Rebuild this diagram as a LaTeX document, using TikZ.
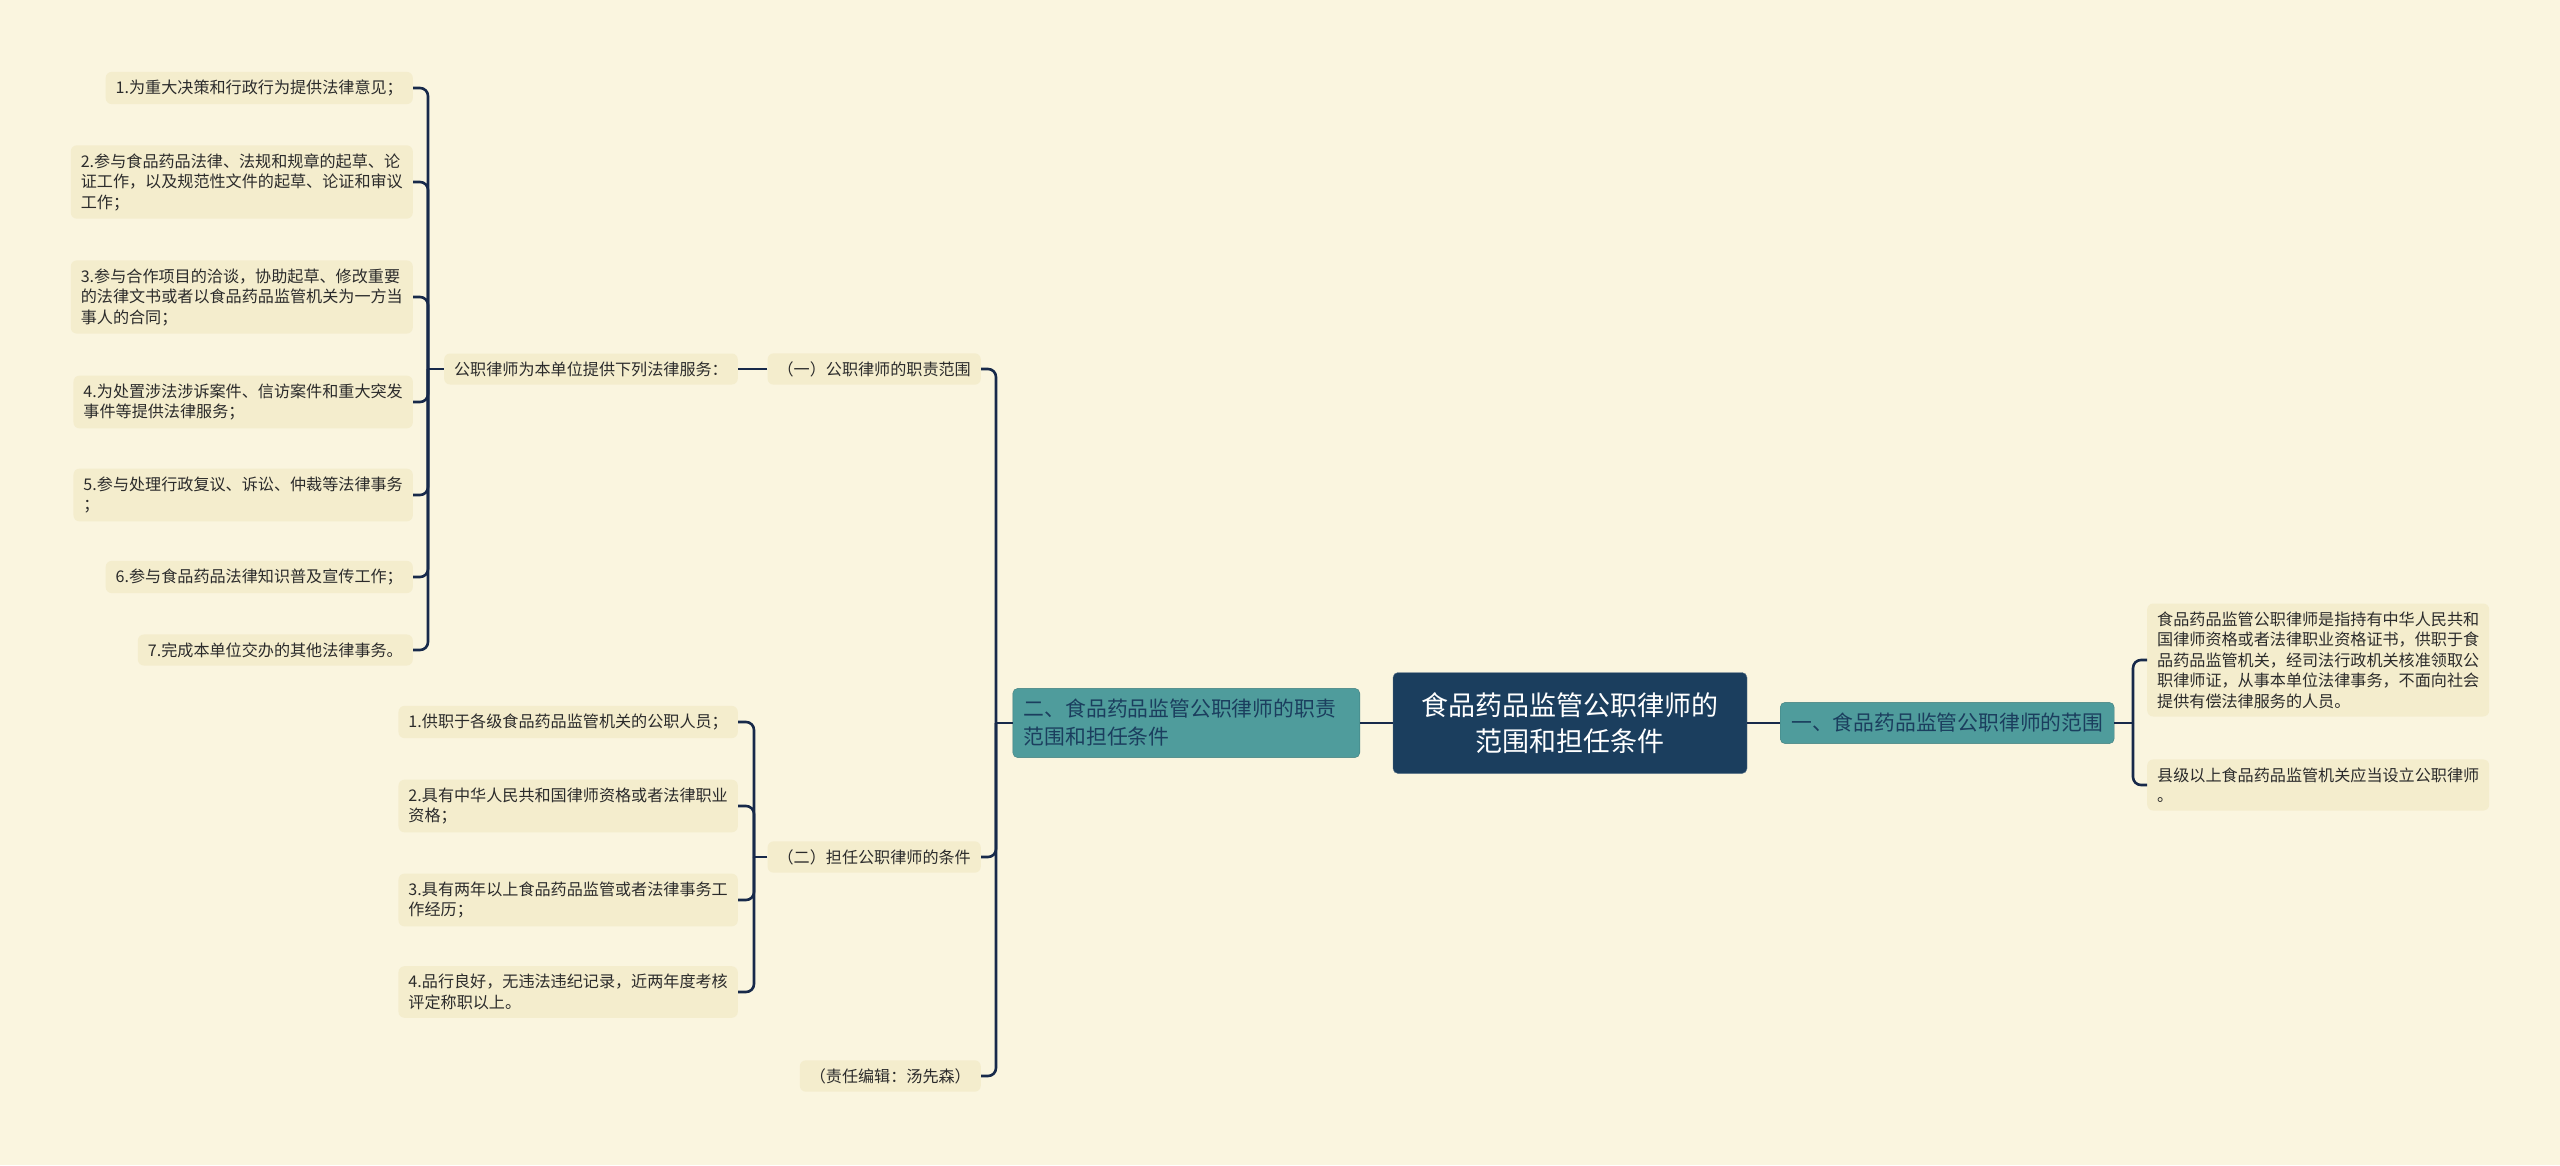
\documentclass[tikz,border=0pt]{standalone}
\usepackage{fontspec}
\setmainfont{Noto Sans CJK SC}
\definecolor{bgcol}{HTML}{FAF5DF}
\definecolor{leafcol}{HTML}{F4EDCD}
\definecolor{branchcol}{HTML}{4F9C9C}
\definecolor{rootcol}{HTML}{1B3E5E}
\definecolor{linecol}{HTML}{17294A}
\definecolor{textcol}{HTML}{2B2B2B}
\newcommand{\px}{1pt}

\begin{document}
\begin{tikzpicture}[leaf/.style={fill=leafcol, rounded corners=6pt, anchor=east, inner xsep=10pt, inner ysep=8pt, align=left, text=textcol, font=\fontsize{16.1}{20.5}\selectfont},
    rleaf/.style={leaf, anchor=west},
    branch/.style={fill=branchcol, draw=branchcol!80!black, rounded corners=5pt, inner xsep=11pt, inner ysep=11pt, align=left, text=rootcol, font=\fontsize{20.8}{28}\selectfont},
    root/.style={fill=rootcol, draw=rootcol!70!white, rounded corners=5pt, minimum width=354*\px, minimum height=101*\px, align=center, text=white, font=\fontsize{27}{36}\selectfont},
    link/.style={draw=linecol, line width=2.6pt, rounded corners=8pt}]
    \fill[bgcol] (0,0) rectangle (2560*\px,-1165*\px);

    % Centre and main branches
    \node[root] (root) at (1570*\px,-723*\px) {食品药品监管公职律师的\\范围和担任条件};
    \node[branch, anchor=east, text width=325*\px] (branch-l) at (1360*\px,-723*\px) {二、食品药品监管公职律师的职责\\范围和担任条件};
    \node[branch, anchor=west] (branch-r) at (1780*\px,-723*\px) {一、食品药品监管公职律师的范围};

    % Right side
    \node[rleaf] (leaf-r-1) at (2147*\px,-660*\px) {食品药品监管公职律师是指持有中华人民共和\\国律师资格或者法律职业资格证书，供职于食\\品药品监管机关，经司法行政机关核准领取公\\职律师证，从事本单位法律事务，不面向社会\\提供有偿法律服务的人员。};
    \node[rleaf] (leaf-r-2) at (2147*\px,-785*\px) {县级以上食品药品监管机关应当设立公职律师\\。};

    % Left side, second level
    \node[leaf] (mid-1) at (981*\px,-369*\px) {（一）公职律师的职责范围};
    \node[leaf] (mid-2) at (981*\px,-857*\px) {（二）担任公职律师的条件};
    \node[leaf] (mid-3) at (981*\px,-1076*\px) {（责任编辑：汤先森）};
    \node[leaf] (svc) at (738*\px,-369*\px) {公职律师为本单位提供下列法律服务：};

    % First group
    \node[leaf] (leaf-1-1) at (413*\px,-88*\px) {1.为重大决策和行政行为提供法律意见；};
    \node[leaf] (leaf-1-2) at (413*\px,-182*\px) {2.参与食品药品法律、法规和规章的起草、论\\证工作，以及规范性文件的起草、论证和审议\\工作；};
    \node[leaf] (leaf-1-3) at (413*\px,-297*\px) {3.参与合作项目的洽谈，协助起草、修改重要\\的法律文书或者以食品药品监管机关为一方当\\事人的合同；};
    \node[leaf] (leaf-1-4) at (413*\px,-402*\px) {4.为处置涉法涉诉案件、信访案件和重大突发\\事件等提供法律服务；};
    \node[leaf] (leaf-1-5) at (413*\px,-495*\px) {5.参与处理行政复议、诉讼、仲裁等法律事务\\；};
    \node[leaf] (leaf-1-6) at (413*\px,-577*\px) {6.参与食品药品法律知识普及宣传工作；};
    \node[leaf] (leaf-1-7) at (413*\px,-650*\px) {7.完成本单位交办的其他法律事务。};

    % Second group
    \node[leaf] (leaf-2-1) at (738*\px,-722*\px) {1.供职于各级食品药品监管机关的公职人员；};
    \node[leaf] (leaf-2-2) at (738*\px,-806*\px) {2.具有中华人民共和国律师资格或者法律职业\\资格；};
    \node[leaf] (leaf-2-3) at (738*\px,-900*\px) {3.具有两年以上食品药品监管或者法律事务工\\作经历；};
    \node[leaf] (leaf-2-4) at (738*\px,-992*\px) {4.品行良好，无违法违纪记录，近两年度考核\\评定称职以上。};

    % Bracket points
    \coordinate (bk-r) at (2133*\px,-723*\px);
    \coordinate (bk-l) at (996*\px,-723*\px);
    \coordinate (bk-1) at (428*\px,-369*\px);
    \coordinate (bk-2) at (754*\px,-857*\px);

    % Connectors
    \draw[link] (root.west) -- (branch-l.east);
    \draw[link] (root.east) -- (branch-r.west);
    \draw[link] (branch-r.east) -- (bk-r);
    \foreach \c in {leaf-r-1,leaf-r-2} \draw[link] (\c.west) -| (bk-r);
    \draw[link] (branch-l.west) -- (bk-l);
    \foreach \c in {mid-1,mid-2,mid-3} \draw[link] (\c.east) -| (bk-l);
    \draw[link] (mid-1.west) -- (svc.east);
    \draw[link] (svc.west) -- (bk-1);
    \foreach \i in {1,...,7} \draw[link] (leaf-1-\i.east) -| (bk-1);
    \draw[link] (mid-2.west) -- (bk-2);
    \foreach \i in {1,...,4} \draw[link] (leaf-2-\i.east) -| (bk-2);
\end{tikzpicture}
\end{document}
